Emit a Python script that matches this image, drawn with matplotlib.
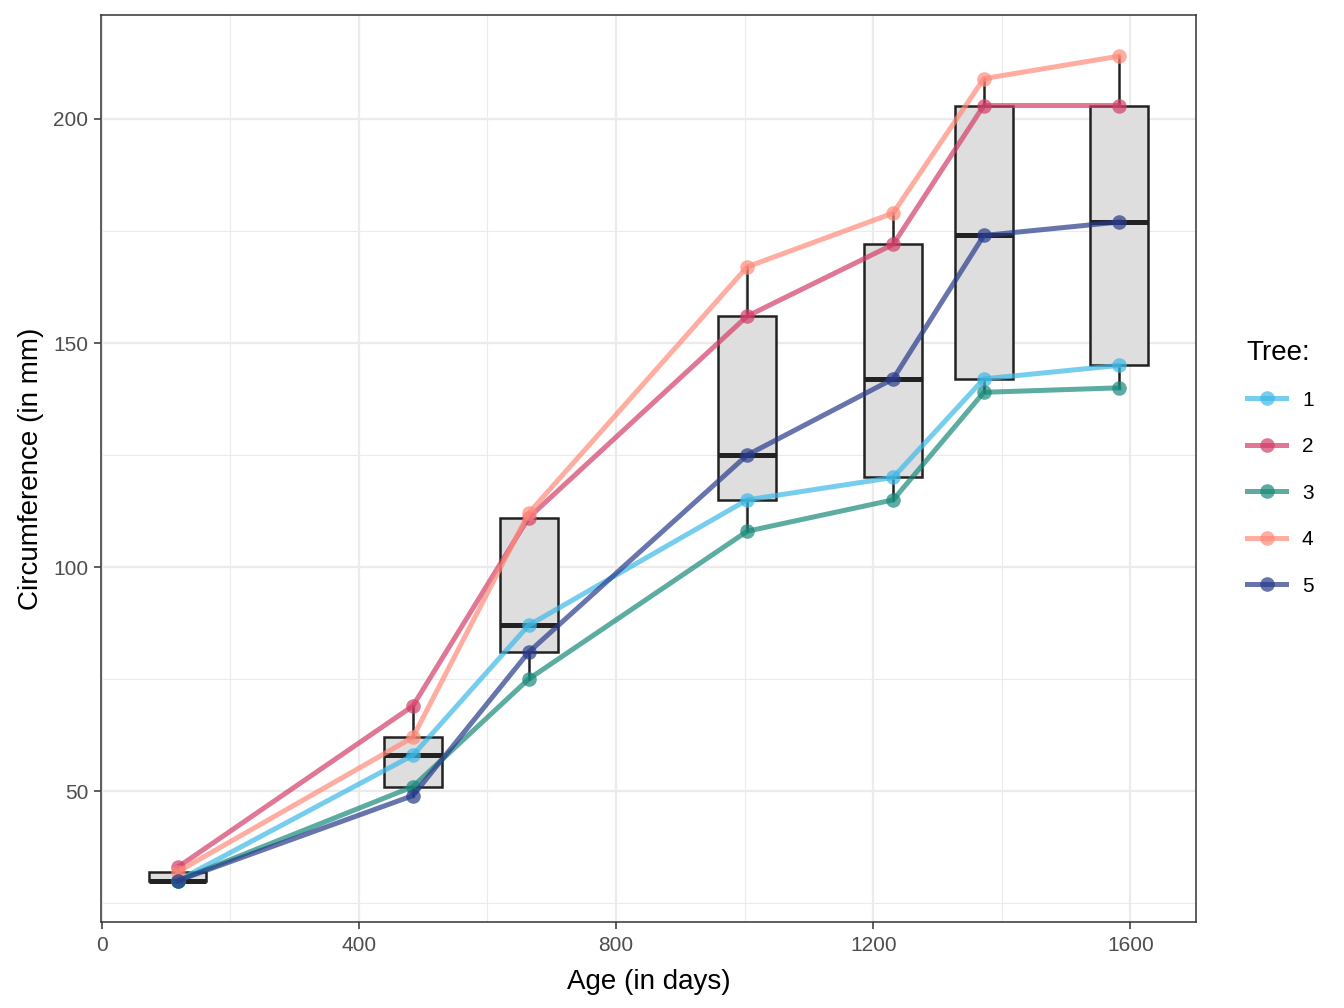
import matplotlib
matplotlib.use("Agg")
import matplotlib.pyplot as plt
import numpy as np
from matplotlib.lines import Line2D

ages = [118, 484, 664, 1004, 1231, 1372, 1582]
trees = ["1", "2", "3", "4", "5"]
circ = {
    "1": [30, 58, 87, 115, 120, 142, 145],
    "2": [33, 69, 111, 156, 172, 203, 203],
    "3": [30, 51, 75, 108, 115, 139, 140],
    "4": [32, 62, 112, 167, 179, 209, 214],
    "5": [30, 49, 81, 125, 142, 174, 177],
}
colors = {"1": "#3DB8E6", "2": "#D23E68", "3": "#18897A", "4": "#FF8A7A", "5": "#283A8A"}

plt.rcParams['font.family'] = ['Liberation Sans', 'DejaVu Sans']

fig = plt.figure(figsize=(13.44, 10.08), dpi=100)
ax = fig.add_axes([101/1344, 1-922/1008, (1196-101)/1344, (922-15)/1008])

# grid
for x in [200, 600, 1000, 1400]:
    ax.axvline(x, color="#EBEBEB", lw=0.8, zorder=0)
for y in [25, 75, 125, 175]:
    ax.axhline(y, color="#EBEBEB", lw=0.8, zorder=0)
for x in [0, 400, 800, 1200, 1600]:
    ax.axvline(x, color="#EBEBEB", lw=1.6, zorder=0)
for y in [50, 100, 150, 200]:
    ax.axhline(y, color="#EBEBEB", lw=1.6, zorder=0)

data_by_age = [[circ[t][i] for t in trees] for i in range(len(ages))]
ax.boxplot(data_by_age, positions=ages, widths=90, whis=1.5, patch_artist=True,
           manage_ticks=False, showfliers=False,
           boxprops=dict(facecolor="#DEDEDE", edgecolor="#222222", linewidth=1.8),
           whiskerprops=dict(color="#222222", linewidth=1.8),
           capprops=dict(linewidth=0),
           medianprops=dict(color="#222222", linewidth=3.6, solid_capstyle="butt"),
           zorder=2)

for t in trees:
    ax.plot(ages, circ[t], color=colors[t], alpha=0.7, lw=3.6, marker="o",
            markersize=10.5, markeredgewidth=0, zorder=3)

ax.set_xlim(-1, 1702)
ax.set_ylim(20.8, 223.2)
ax.set_xticks([0, 400, 800, 1200, 1600])
ax.set_yticks([50, 100, 150, 200])
ax.tick_params(axis="both", labelsize=15, colors="#333333", length=5, width=1.1,
               labelcolor="#4D4D4D")
ax.tick_params(axis="x", pad=5)
ax.tick_params(axis="y", pad=4)
for s in ax.spines.values():
    s.set_color("#333333")
    s.set_linewidth(1.1)
ax.set_xlabel("Age (in days)", fontsize=20, labelpad=10)
ax.set_ylabel("Circumference (in mm)", fontsize=20, labelpad=7)

handles = [Line2D([0], [0], color=colors[t], alpha=0.7, lw=3.6, marker="o",
                  markersize=10.5, markeredgewidth=0) for t in trees]
leg = fig.legend(handles, trees, title="Tree:", loc="center left",
                 bbox_to_anchor=(1228/1344, 0.536), frameon=False, fontsize=15,
                 title_fontsize=20, handlelength=1.9, labelspacing=1.32,
                 handletextpad=0.75)
leg._legend_box.align = "left"
leg._legend_box.sep = 18

fig.savefig("out.png", dpi=100)
